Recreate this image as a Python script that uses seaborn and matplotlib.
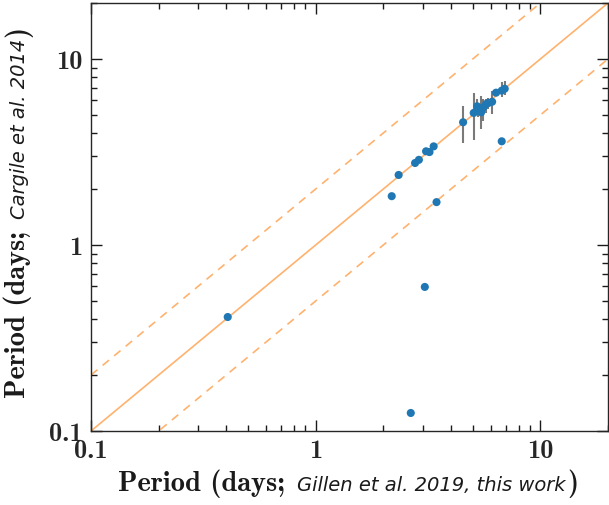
import numpy as np
import pandas as pd
import matplotlib
matplotlib.use("Agg")
import matplotlib.pyplot as plt
from matplotlib.ticker import FixedLocator, LogLocator, FuncFormatter, NullFormatter
import seaborn as sns

sns.set_style("ticks")
plt.rcParams["axes.unicode_minus"] = False

# periods (days): this work vs Cargile et al. 2014
period_this = [0.406, 2.18, 2.34, 2.77, 2.88, 3.10, 3.21, 3.35, 4.53, 5.05,
               5.23, 5.30, 5.45, 5.58, 5.74, 5.87, 6.10, 6.35, 6.73, 6.94,
               6.73, 3.45, 3.06, 2.65]
period_cargile = [0.41, 1.83, 2.38, 2.76, 2.87, 3.19, 3.16, 3.39, 4.57, 5.13,
                  5.57, 5.27, 5.17, 5.50, 5.73, 5.80, 5.89, 6.59, 6.76, 6.92,
                  3.61, 1.70, 0.595, 0.125]
err_lo = [0.0, 0.0, 0.0, 0.12, 0.12, 0.15, 0.15, 0.15, 1.05, 1.45,
          0.5, 0.4, 0.97, 0.84, 0.6, 0.4, 0.8, 0.3, 0.5, 0.55,
          0.0, 0.0, 0.0, 0.0]
err_hi = [0.0, 0.0, 0.0, 0.12, 0.12, 0.15, 0.15, 0.15, 1.04, 1.45,
          0.5, 0.4, 1.18, 0.6, 0.4, 0.4, 0.8, 0.3, 0.75, 0.7,
          0.0, 0.0, 0.0, 0.0]

xlabel_parts = ["Period (days;", "Gillen et al. 2019, this work", ")"]
ylabel_parts = ["Period (days;", "Cargile et al. 2014", ")"]

df = pd.DataFrame({"this": period_this, "cargile": period_cargile})

W, H = 609, 506
fig = plt.figure(figsize=(W / 100, H / 100), dpi=100)
ax = fig.add_axes([91 / W, 1 - 432 / H, 517 / W, 428 / H])

# one-to-one and factor-of-two lines
xl = np.array([0.1, 20.0])
ax.plot(xl, xl, color="C1", alpha=0.6, lw=1.2, zorder=1)
ax.plot(xl, 2 * xl, color="C1", alpha=0.6, lw=1.2, ls=(0, (5, 4)), zorder=1)
ax.plot(xl, xl / 2, color="C1", alpha=0.6, lw=1.2, ls=(0, (5, 4)), zorder=1)

ax.errorbar(period_this, period_cargile, yerr=[err_lo, err_hi], fmt="none",
            ecolor="0.35", alpha=0.8, elinewidth=1.5, zorder=2)
sns.scatterplot(data=df, x="this", y="cargile", color="C0", s=34,
                edgecolor="none", linewidth=0, ax=ax, zorder=3)

ax.set_xscale("log")
ax.set_yscale("log")
ax.set_xlim(0.1, 20)
ax.set_ylim(0.1, 20)
ax.set_xlabel("")
ax.set_ylabel("")

fmt = FuncFormatter(lambda v, p: {0.1: "0.1", 1.0: "1", 10.0: "10"}.get(round(v, 3), ""))
for axis in (ax.xaxis, ax.yaxis):
    axis.set_major_locator(FixedLocator([0.1, 1, 10]))
    axis.set_minor_locator(LogLocator(base=10, subs=np.arange(2, 10)))
    axis.set_major_formatter(fmt)
    axis.set_minor_formatter(NullFormatter())

ax.tick_params(which="both", direction="in", top=True, right=True, width=1, color="0.1")
ax.tick_params(which="major", length=8, labelsize=19, pad=6)
ax.tick_params(which="minor", length=4.5)
for lab in ax.get_xticklabels() + ax.get_yticklabels():
    lab.set_fontfamily("cmb10")
for sp in ax.spines.values():
    sp.set_linewidth(1.0)
    sp.set_color("0.15")

# axis labels: bold serif + italic sans, laid out piece by piece
styles = [dict(family="cmb10", size=20.5),
          dict(family="DejaVu Sans", style="italic", size=14),
          dict(family="cmb10", size=20.5)]
gaps = [12, 2]
renderer = fig.canvas.get_renderer()


def compose(parts, center, base, vertical):
    texts, lens = [], []
    for s, st in zip(parts, styles):
        t = fig.text(0, 0, s, ha="left", va="baseline", color="0.1",
                     rotation=90 if vertical else 0, rotation_mode="anchor", **st)
        bb = t.get_window_extent(renderer)
        texts.append(t)
        lens.append(bb.height if vertical else bb.width)
    total = sum(lens) + sum(gaps)
    pos = center + total / 2 if vertical else center - total / 2
    for i, t in enumerate(texts):
        step = lens[i] + (gaps[i] if i < len(gaps) else 0)
        if vertical:
            t.set_position((base / W, 1 - pos / H))
            pos -= step
        else:
            t.set_position((pos / W, 1 - base / H))
            pos += step


compose(xlabel_parts, 348, 491, False)
compose(ylabel_parts, 212, 25, True)

fig.savefig("out.png", dpi=100)
